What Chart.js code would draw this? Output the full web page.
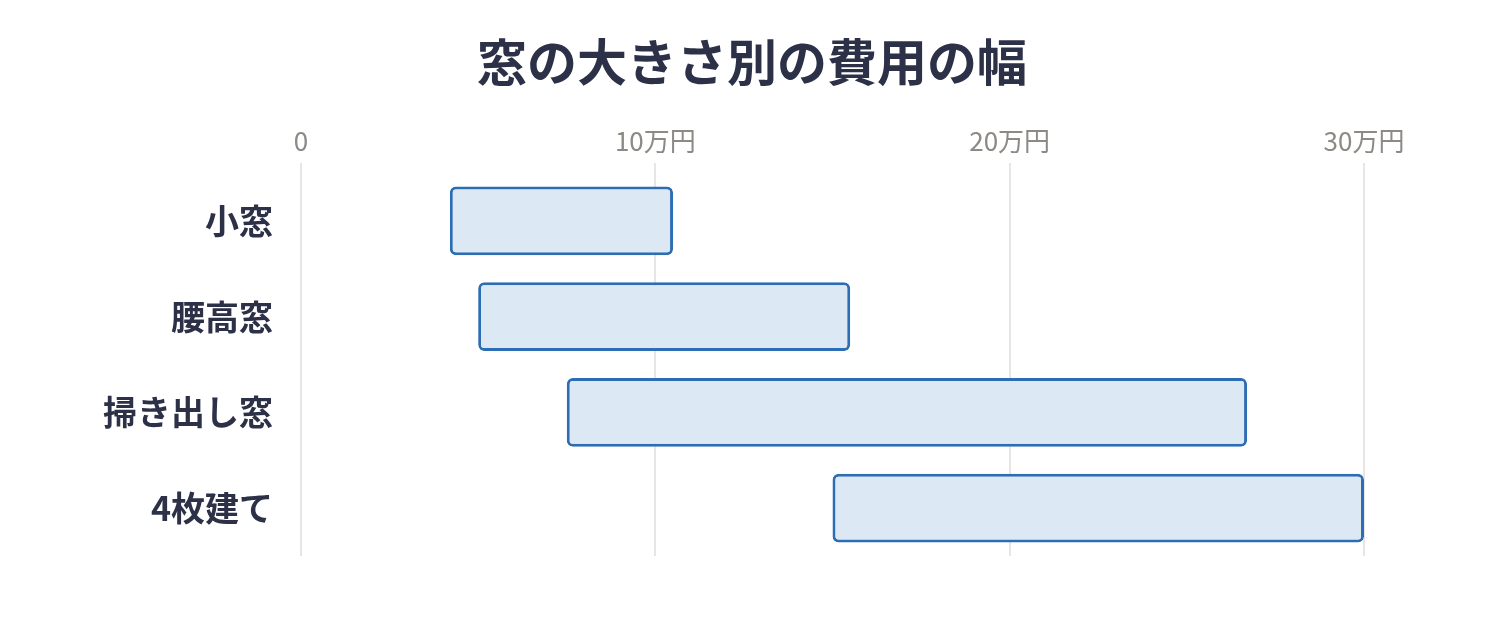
<!DOCTYPE html>
<html lang="ja">
<head>
<meta charset="utf-8">
<title>窓の大きさ別の費用の幅</title>
<script src="https://cdn.jsdelivr.net/npm/chart.js@4"></script>
<style>
  html, body { margin: 0; padding: 0; background: #fff; }
  #wrap { width: 1504px; height: 620px; }
</style>
</head>
<body>
<div id="wrap"><canvas id="range-chart"></canvas></div>
<script>
// ── Data ──
const categories = ['小窓', '腰高窓', '掃き出し窓', '4枚建て'];
const lowValues = [4.2, 5, 7.5, 15];       // 万円
const highValues = [10.5, 15.5, 26.7, 30]; // 万円
const tickValues = [0, 10, 20, 30];
const tickLabels = ['0', '10万円', '20万円', '30万円'];

const FONT = '"Noto Sans CJK JP", "Noto Sans", sans-serif';
const INK = '#2c3148';

const ctx = document.getElementById('range-chart');
new Chart(ctx, {
  type: 'bar',
  data: {
    labels: categories,
    datasets: [{
      label: '費用の幅',
      data: categories.map((c, i) => [lowValues[i], highValues[i]]),
      backgroundColor: '#dce8f4',
      borderColor: '#2d6db3',
      borderWidth: 3,
      borderRadius: 6,
      borderSkipped: false,
    }]
  },
  options: {
    indexAxis: 'y',
    responsive: true,
    maintainAspectRatio: false,
    animation: false,
    layout: { padding: { left: 0, right: 0, top: 0, bottom: 64 } },
    plugins: {
      legend: { display: false },
      tooltip: { enabled: false },
      title: {
        display: true,
        text: '窓の大きさ別の費用の幅',
        color: INK,
        font: { family: FONT, size: 50, weight: 'bold' },
        padding: { top: 32, bottom: 0 }
      }
    },
    scales: {
      x: {
        position: 'top',
        min: 0,
        max: 30,
        afterBuildTicks: (scale) => { scale.ticks = tickValues.map(v => ({ value: v })); },
        afterFit: (scale) => { scale.height = 81; },
        ticks: {
          color: '#8d8984',
          padding: 6,
          font: { family: FONT, size: 26 },
          callback: (v) => tickLabels[tickValues.indexOf(v)]
        },
        grid: { color: '#e8e5e2', lineWidth: 2, tickLength: 10 },
        border: { display: false }
      },
      y: {
        afterFit: (scale) => { scale.width = 301; },
        ticks: {
          color: INK,
          padding: 28,
          font: { family: FONT, size: 34, weight: 'bold' }
        },
        grid: { display: false, drawTicks: false },
        border: { display: false }
      },
      // empty right-hand axis, only reserves the blank margin so the title stays centred on the page
      yRight: {
        type: 'linear',
        position: 'right',
        min: 0,
        max: 1,
        afterFit: (scale) => { scale.width = 140; },
        ticks: { display: false },
        grid: { display: false, drawTicks: false },
        border: { display: false }
      }
    }
  }
});
</script>
</body>
</html>
